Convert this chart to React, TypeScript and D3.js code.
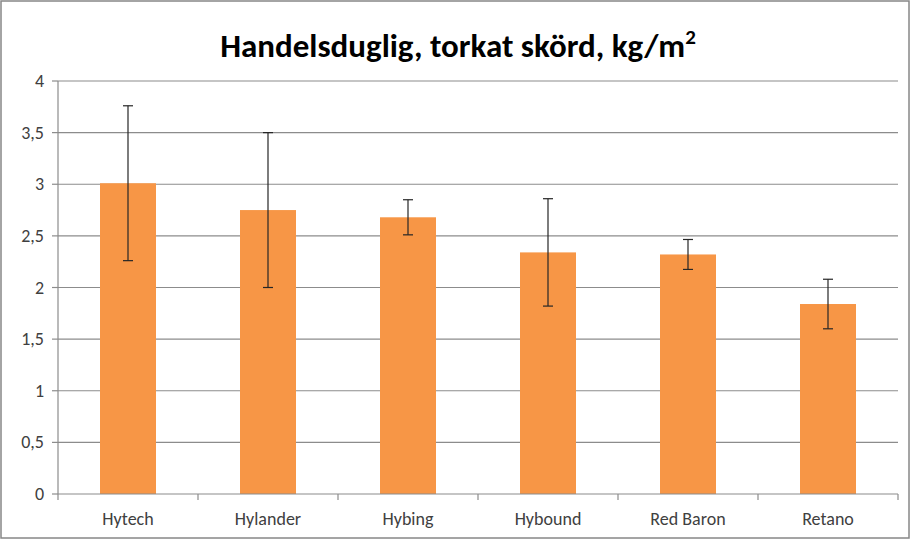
import React from "react";
import * as d3 from "d3";

const categories = ["Hytech", "Hylander", "Hybing", "Hybound", "Red Baron", "Retano"];
const values = [3.01, 2.75, 2.68, 2.34, 2.32, 1.84];
const errors = [0.75, 0.75, 0.17, 0.52, 0.145, 0.24];
const yTicks = [0, 0.5, 1, 1.5, 2, 2.5, 3, 3.5, 4];
const titleText = "Handelsduglig, torkat skörd, kg/m";

const W = 911;
const H = 541;
const left = 58;
const right = 898;
const top = 81;
const bottom = 494;

export default function App() {
  const x = d3.scaleBand<string>().domain(categories).range([left, right]).paddingInner(0.6).paddingOuter(0.3);
  const xb = d3.scaleBand<string>().domain(categories).range([left, right]);
  const y = d3.scaleLinear().domain([0, 4]).range([bottom, top]);
  const fmt = (v: number) => String(v).replace(".", ",");
  const font = "Carlito, Calibri, 'Open Sans', sans-serif";
  return (
    <svg width={W} height={H} style={{ position: "absolute", left: 0, top: 0, background: "#fff" }}>
      <rect x={1} y={1} width={W - 3} height={H - 4} fill="#fff" stroke="#878787" strokeWidth={1.5} />
      <text x={458} y={57} textAnchor="middle" fontFamily={font} fontWeight="bold" fontSize={33} fill="#000">
        {titleText}
        <tspan fontSize={21} dy={-13}>2</tspan>
      </text>
      {yTicks.map((t) => (
        <g key={t}>
          {t > 0 && <line x1={left} x2={right} y1={y(t)} y2={y(t)} stroke="#8c8c8c" strokeWidth={1.2} />}
          <line x1={left - 6} x2={left} y1={y(t)} y2={y(t)} stroke="#8c8c8c" strokeWidth={1.2} />
          <text x={left - 14} y={y(t) + 6} textAnchor="end" fontFamily={font} fontSize={18} fill="#404040">{fmt(t)}</text>
        </g>
      ))}
      <line x1={left} x2={left} y1={top} y2={bottom} stroke="#8c8c8c" strokeWidth={1.2} />
      {categories.map((c, i) => (
        <rect key={c} x={x(c)} y={y(values[i])} width={x.bandwidth()} height={bottom - y(values[i])} fill="#F79646" />
      ))}
      <line x1={left} x2={right} y1={bottom} y2={bottom} stroke="#8c8c8c" strokeWidth={1.2} />
      {categories.map((c) => (
        <line key={c} x1={(xb(c) as number) + xb.bandwidth()} x2={(xb(c) as number) + xb.bandwidth()} y1={bottom} y2={bottom + 6} stroke="#8c8c8c" strokeWidth={1.2} />
      ))}
      <line x1={left} x2={left} y1={bottom} y2={bottom + 6} stroke="#8c8c8c" strokeWidth={1.2} />
      {categories.map((c, i) => {
        const cx = (xb(c) as number) + xb.bandwidth() / 2;
        const hi = y(values[i] + errors[i]);
        const lo = y(values[i] - errors[i]);
        return (
          <g key={c} stroke="#262626" strokeWidth={1.2}>
            <line x1={cx} x2={cx} y1={hi} y2={lo} />
            <line x1={cx - 5} x2={cx + 5} y1={hi} y2={hi} />
            <line x1={cx - 5} x2={cx + 5} y1={lo} y2={lo} />
          </g>
        );
      })}
      {categories.map((c) => (
        <text key={c} x={(xb(c) as number) + xb.bandwidth() / 2} y={525} textAnchor="middle" fontFamily={font} fontSize={18} fill="#404040">{c}</text>
      ))}
    </svg>
  );
}
